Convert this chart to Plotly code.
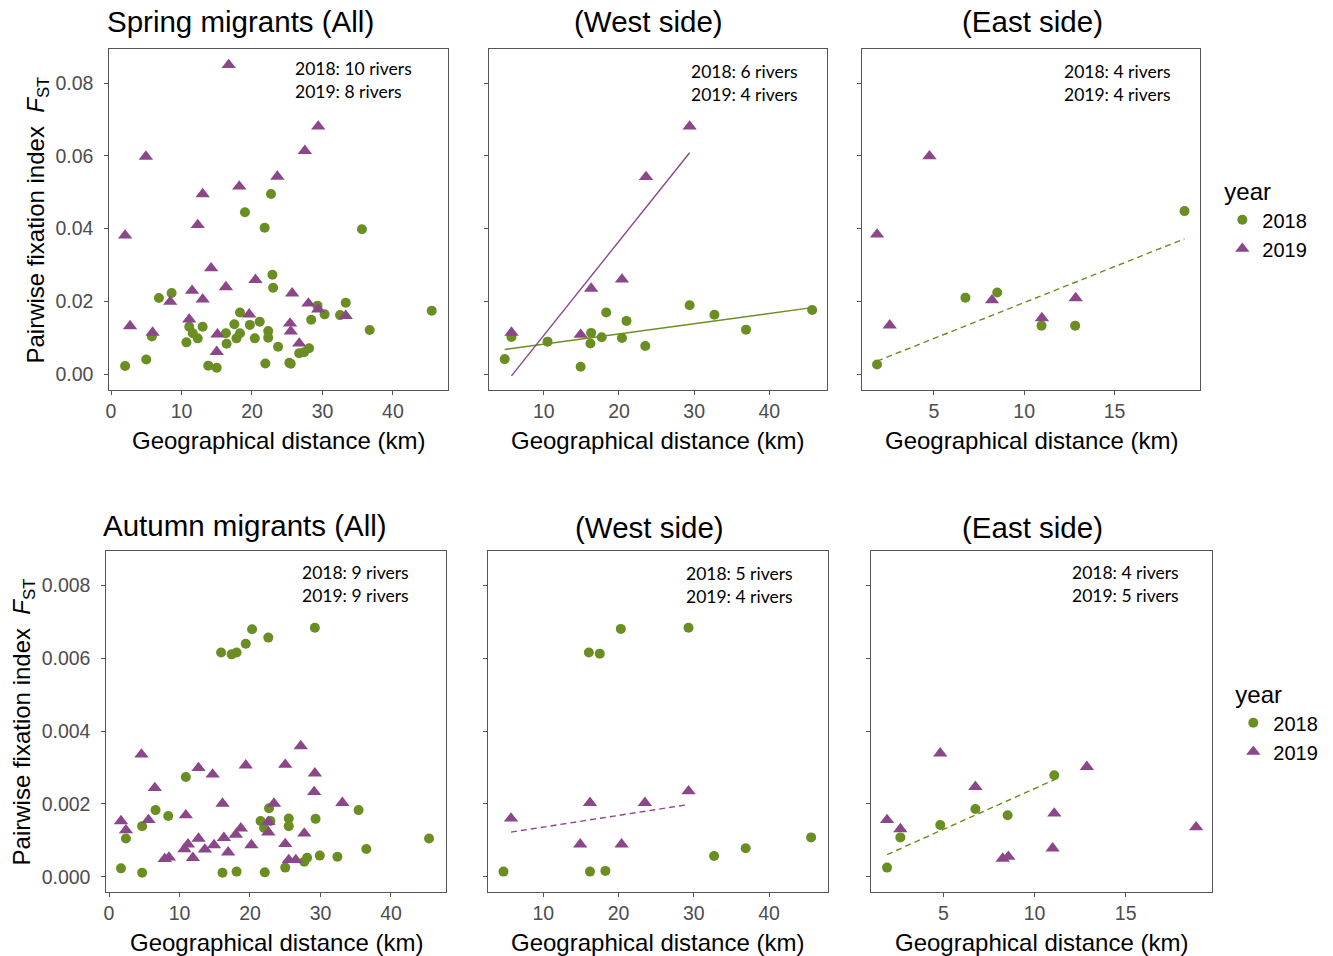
import numpy as np
import plotly.graph_objects as go

W, H = 1333, 956

# ---------------- data ----------------
# Spring migrants (All)
spring_all_2018_x = [22.7, 19.0, 21.8, 35.6, 22.9, 23.0, 6.8, 8.6, 33.3, 29.3, 45.5, 18.3, 30.3, 32.5, 21.1,
                     17.5, 19.7, 13.0, 11.1, 28.4, 36.7, 22.3, 22.3, 16.3, 18.3, 17.8, 20.4, 11.6, 12.3, 10.7,
                     16.4, 23.7, 28.1, 26.7, 27.4, 5.8, 5.0, 2.0, 13.8, 15.0, 21.9, 25.3, 25.5]
spring_all_2018_y = [0.0495, 0.0445, 0.0402, 0.0398, 0.0273, 0.0237, 0.0209, 0.0223, 0.0196, 0.0188, 0.0174,
                     0.0169, 0.0164, 0.0162, 0.0144, 0.0137, 0.0135, 0.0130, 0.0130, 0.0149, 0.0121, 0.0118,
                     0.0100, 0.0112, 0.0112, 0.0098, 0.0098, 0.0112, 0.0098, 0.0087, 0.0083, 0.0075, 0.0071,
                     0.0057, 0.0060, 0.0103, 0.0040, 0.0022, 0.0023, 0.0017, 0.0029, 0.0031, 0.0028]
spring_all_2019_x = [16.7, 29.4, 27.5, 4.95, 23.6, 18.2, 13.0, 12.3, 2.0, 14.2, 20.5, 16.3, 11.5, 25.7, 13.0,
                     8.4, 28.0, 29.4, 33.3, 19.6, 11.1, 25.4, 25.5, 2.7, 5.9, 15.1, 26.7, 15.0]
spring_all_2019_y = [0.0850, 0.0681, 0.0614, 0.0598, 0.0543, 0.0516, 0.0495, 0.0410, 0.0381, 0.0291, 0.0259,
                     0.0239, 0.0229, 0.0222, 0.0205, 0.0199, 0.0194, 0.0178, 0.0160, 0.0164, 0.0150, 0.0139,
                     0.0117, 0.0132, 0.0114, 0.0109, 0.0084, 0.0061]

# Spring migrants (West side)
spring_west_2018_x = [29.4, 18.3, 32.7, 45.7, 21.0, 36.9, 16.3, 17.7, 20.4, 10.5, 16.2, 23.5, 5.7, 4.8, 14.9]
spring_west_2018_y = [0.0189, 0.0169, 0.0163, 0.0176, 0.0146, 0.0122, 0.0113, 0.0101, 0.0099, 0.0089, 0.0084,
                      0.0077, 0.0102, 0.0041, 0.0020]
spring_west_2019_x = [29.4, 23.6, 20.4, 16.3, 5.7, 14.9]
spring_west_2019_y = [0.0681, 0.0542, 0.0260, 0.0235, 0.0114, 0.0108]

# Spring migrants (East side)
spring_east_2018_x = [18.87, 6.75, 8.51, 10.96, 12.82, 1.86]
spring_east_2018_y = [0.0448, 0.0210, 0.0224, 0.0133, 0.0133, 0.0026]
spring_east_2019_x = [4.76, 1.86, 2.56, 8.22, 10.98, 12.85]
spring_east_2019_y = [0.0599, 0.0384, 0.0134, 0.0203, 0.0154, 0.0209]

# Autumn migrants (All)
autumn_all_2018_x = [29.2, 20.3, 22.6, 19.4, 15.9, 17.4, 18.1, 10.9, 6.6, 8.4, 35.4, 22.7, 29.3, 25.5, 25.5,
                     21.5, 22.9, 22.0, 4.7, 2.4, 45.4, 36.5, 29.9, 32.4, 28.1, 27.7, 1.7, 4.7, 16.1, 18.1,
                     22.1, 25.0]
autumn_all_2018_y = [0.00684, 0.00680, 0.00657, 0.00640, 0.00616, 0.00611, 0.00616, 0.00274, 0.00183, 0.00167,
                     0.00183, 0.00188, 0.00159, 0.00160, 0.00139, 0.00153, 0.00153, 0.00134, 0.00139, 0.00105,
                     0.00105, 0.00076, 0.00058, 0.00055, 0.00052, 0.00041, 0.00023, 0.00011, 0.00011, 0.00014,
                     0.00012, 0.00025]
autumn_all_2019_x = [27.2, 4.6, 12.7, 19.4, 25.0, 14.7, 29.2, 6.5, 29.1, 16.1, 23.4, 33.1, 10.9, 1.7, 5.6,
                     2.4, 22.6, 22.6, 18.7, 18.0, 27.7, 16.3, 12.7, 14.9, 11.2, 10.7, 13.6, 20.2, 25.0, 16.9,
                     8.5, 7.9, 11.9, 25.5, 26.5]
autumn_all_2019_y = [0.00359, 0.00336, 0.00299, 0.00306, 0.00308, 0.00281, 0.00284, 0.00244, 0.00233, 0.00201,
                     0.00201, 0.00203, 0.00169, 0.00153, 0.00156, 0.00128, 0.00151, 0.00122, 0.00133, 0.00116,
                     0.00119, 0.00107, 0.00105, 0.00087, 0.00089, 0.00076, 0.00075, 0.00087, 0.00090, 0.00067,
                     0.00053, 0.00049, 0.00052, 0.00046, 0.00046]

# Autumn migrants (West side)
autumn_west_2018_x = [20.3, 29.3, 16.05, 17.5, 45.6, 36.9, 32.7, 4.7, 16.2, 18.25]
autumn_west_2018_y = [0.00681, 0.00684, 0.00616, 0.00613, 0.00108, 0.00078, 0.00057, 0.00014, 0.00014, 0.00016]
autumn_west_2019_x = [29.3, 16.2, 23.5, 5.7, 14.9, 20.4]
autumn_west_2019_y = [0.00235, 0.00203, 0.00203, 0.00160, 0.00089, 0.00089]

# Autumn migrants (East side)
autumn_east_2018_x = [11.08, 6.75, 8.52, 4.82, 2.63, 1.90]
autumn_east_2018_y = [0.00279, 0.00186, 0.00169, 0.00142, 0.00108, 0.00025]
autumn_east_2019_x = [4.82, 12.87, 6.75, 1.90, 2.63, 11.08, 18.87, 10.99, 8.25, 8.56]
autumn_east_2019_y = [0.00339, 0.00302, 0.00247, 0.00156, 0.00131, 0.00174, 0.00136, 0.00078, 0.00050, 0.00055]

panel_titles = ["Spring migrants (All)", "(West side)", "(East side)",
                "Autumn migrants (All)", "(West side)", "(East side)"]
river_counts = [("10", "8"), ("6", "4"), ("4", "4"), ("9", "9"), ("5", "4"), ("4", "5")]
years = ["2018", "2019"]
x_title = "Geographical distance (km)"
y_title = "Pairwise fixation index  <i>F</i><sub>ST</sub>"

# ---------------- styling / layout ----------------
GREEN = "#6B8E23"
PURPLE = "#8B4789"
AXC = "#555555"
TICKC = "#4D4D4D"
FONT = "Liberation Sans, Arial, sans-serif"
NOTE_FONT = "Lato, Open Sans, sans-serif"

panels = [
    dict(x2018=spring_all_2018_x, y2018=spring_all_2018_y, x2019=spring_all_2019_x, y2019=spring_all_2019_y,
         px=(105.7, 445.7), py=(49.3, 390), xr=[-0.23, 47.86], yr=[-0.0044, 0.0893],
         xt=[0, 10, 20, 30, 40], yt=[0, 0.02, 0.04, 0.06, 0.08], yfmt=".2f", ylab=True,
         fit={}, title_x=101, title_anchor="left", title_y=22, note=(290, 80.5), legend="legend"),
    dict(x2018=spring_west_2018_x, y2018=spring_west_2018_y, x2019=spring_west_2019_x, y2019=spring_west_2019_y,
         px=(486, 825.3), py=(49.3, 390), xr=[2.65, 47.65], yr=[-0.0044, 0.0893],
         xt=[10, 20, 30, 40], yt=[0, 0.02, 0.04, 0.06, 0.08], yfmt=".2f", ylab=False,
         fit={"2018": "solid", "2019": "solid"}, title_x=646, title_anchor="center", title_y=22,
         note=(687, 83.5), legend="legend"),
    dict(x2018=spring_east_2018_x, y2018=spring_east_2018_y, x2019=spring_east_2019_x, y2019=spring_east_2019_y,
         px=(861, 1200), py=(49.3, 390), xr=[1.05, 19.75], yr=[-0.0044, 0.0893],
         xt=[5, 10, 15], yt=[0, 0.02, 0.04, 0.06, 0.08], yfmt=".2f", ylab=False,
         fit={"2018": "dash"}, title_x=1032, title_anchor="center", title_y=22,
         note=(1061, 83.5), legend="legend"),
    dict(x2018=autumn_all_2018_x, y2018=autumn_all_2018_y, x2019=autumn_all_2019_x, y2019=autumn_all_2019_y,
         px=(102.7, 443.3), py=(551, 892), xr=[-0.37, 47.8], yr=[-0.00042, 0.00895],
         xt=[0, 10, 20, 30, 40], yt=[0, 0.002, 0.004, 0.006, 0.008], yfmt=".3f", ylab=True,
         fit={}, title_x=97, title_anchor="left", title_y=525, note=(297, 583.5), legend="legend2"),
    dict(x2018=autumn_west_2018_x, y2018=autumn_west_2018_y, x2019=autumn_west_2019_x, y2019=autumn_west_2019_y,
         px=(485, 826), py=(551, 892), xr=[2.58, 47.78], yr=[-0.00042, 0.00895],
         xt=[10, 20, 30, 40], yt=[0, 0.002, 0.004, 0.006, 0.008], yfmt=".3f", ylab=False,
         fit={"2019": "dash"}, title_x=647, title_anchor="center", title_y=527,
         note=(682, 585), legend="legend2"),
    dict(x2018=autumn_east_2018_x, y2018=autumn_east_2018_y, x2019=autumn_east_2019_x, y2019=autumn_east_2019_y,
         px=(870, 1212), py=(551, 892), xr=[1.04, 19.76], yr=[-0.00042, 0.00895],
         xt=[5, 10, 15], yt=[0, 0.002, 0.004, 0.006, 0.008], yfmt=".3f", ylab=False,
         fit={"2018": "dash"}, title_x=1032, title_anchor="center", title_y=527,
         note=(1069, 583.5), legend="legend2"),
]

fig = go.Figure()
layout = dict(width=W, height=H, margin=dict(l=0, r=0, t=0, b=0),
              paper_bgcolor="white", plot_bgcolor="white",
              font=dict(family=FONT, color="black"), annotations=[])

def fx(p):
    return p / W

def fy(p):
    return 1 - p / H

for i, P in enumerate(panels):
    k = "" if i == 0 else str(i + 1)
    xa, ya = "x" + k, "y" + k
    common = dict(showline=True, mirror=True, linecolor=AXC, linewidth=1, ticks="outside",
                  ticklen=4, tickcolor=AXC, showgrid=False, zeroline=False,
                  tickfont=dict(family=FONT, size=19.5, color=TICKC))
    layout["xaxis" + k] = dict(common, domain=[fx(P["px"][0]), fx(P["px"][1])], range=P["xr"],
                               tickvals=P["xt"], anchor=ya)
    layout["yaxis" + k] = dict(common, domain=[fy(P["py"][1]), fy(P["py"][0])], range=P["yr"],
                               tickvals=P["yt"], tickformat=P["yfmt"], showticklabels=P["ylab"],
                               ticklabelstandoff=7, anchor=xa)
    show = i in (0, 3)
    for yr_, col, sym, size in (("2018", GREEN, "circle", 10), ("2019", PURPLE, "triangle-up", 12.5)):
        xs, ys = P["x" + yr_], P["y" + yr_]
        fig.add_trace(go.Scatter(x=xs, y=ys, mode="markers", name=yr_, xaxis=xa, yaxis=ya,
                                 marker=dict(color=col, symbol=sym, size=size, line=dict(width=0)),
                                 showlegend=show, legend=P["legend"]))
        if yr_ in P["fit"]:
            xarr, yarr = np.array(xs), np.array(ys)
            slope, icpt = np.polyfit(xarr, yarr, 1)
            lx = np.array([xarr.min(), xarr.max()])
            fig.add_trace(go.Scatter(x=lx, y=slope * lx + icpt, mode="lines", xaxis=xa, yaxis=ya,
                                     line=dict(color=col, width=1.4,
                                               dash="solid" if P["fit"][yr_] == "solid" else "6px,4px"),
                                     showlegend=False, hoverinfo="skip"))
    # panel title
    layout["annotations"].append(dict(text=panel_titles[i], xref="paper", yref="paper",
                                      x=fx(P["title_x"]), y=fy(P["title_y"]), xanchor=P["title_anchor"],
                                      yanchor="middle", showarrow=False,
                                      font=dict(family=FONT, size=29.5, color="black")))
    # river counts
    n18, n19 = river_counts[i]
    layout["annotations"].append(dict(text=f"2018: {n18} rivers<br>2019: {n19} rivers",
                                      xref="paper", yref="paper", x=fx(P["note"][0]), y=fy(P["note"][1]),
                                      xanchor="left", yanchor="middle", align="left", showarrow=False,
                                      font=dict(family=NOTE_FONT, size=17.5, color="black")))
    # x axis title
    cx = (P["px"][0] + P["px"][1]) / 2
    ty = 440 if i < 3 else 942
    layout["annotations"].append(dict(text=x_title, xref="paper", yref="paper", x=fx(cx), y=fy(ty),
                                      xanchor="center", yanchor="middle", showarrow=False,
                                      font=dict(family=FONT, size=24, color="black")))
    if P["ylab"]:
        cy = (P["py"][0] + P["py"][1]) / 2
        tx = 34 if i == 0 else 20
        layout["annotations"].append(dict(text=y_title, xref="paper", yref="paper", x=fx(tx), y=fy(cy),
                                          xanchor="center", yanchor="middle", textangle=-90,
                                          showarrow=False,
                                          font=dict(family=FONT, size=24, color="black")))

leg_common = dict(bgcolor="rgba(0,0,0,0)", borderwidth=0, xanchor="left", yanchor="top",
                  font=dict(family=FONT, size=20, color="black"), tracegroupgap=0)
layout["legend"] = dict(leg_common, x=fx(1222), y=fy(169),
                        title=dict(text="year", font=dict(family=FONT, size=24, color="black")))
layout["legend2"] = dict(leg_common, x=fx(1233), y=fy(672),
                         title=dict(text="year", font=dict(family=FONT, size=24, color="black")))

fig.update_layout(**layout)
fig.write_html("out.html", config={"displayModeBar": False},
               post_script="document.body.style.margin='0px';")
